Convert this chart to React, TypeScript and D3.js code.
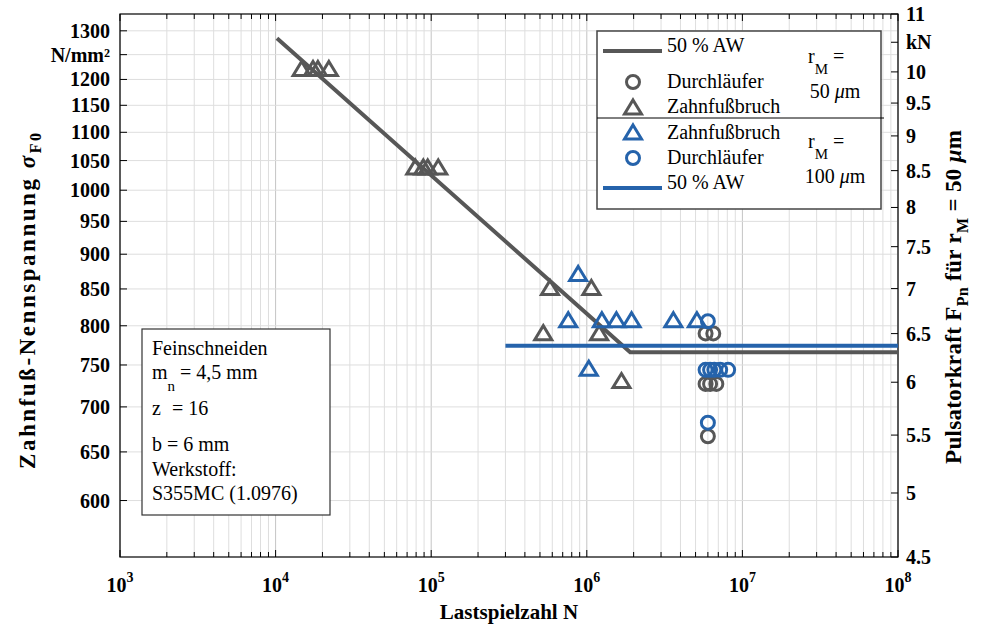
import { useEffect, useRef } from 'react';
import * as d3 from 'd3';

// x axis decades (10^3 .. 10^8)
const xDecades = [3, 4, 5, 6, 7, 8];
const leftTicks = [600, 650, 700, 750, 800, 850, 900, 950, 1000, 1050, 1100, 1150, 1200, 1250, 1300];
const leftTickLabels = ['600', '650', '700', '750', '800', '850', '900', '950', '1000', '1050', '1100', '1150', '1200', 'N/mm²', '1300'];
const rightTicks = [4.5, 5, 5.5, 6, 6.5, 7, 7.5, 8, 8.5, 9, 9.5, 10, 10.5, 11];
const rightTickLabels = ['4.5', '5', '5.5', '6', '6.5', '7', '7.5', '8', '8.5', '9', '9.5', '10', 'kN', '11'];

// r_M = 50 µm (grey)
const grayLineN = [1.02e4, 1.9e6, 1e8];
const grayLineS = [1284, 766, 766];
const grayBruchN = [1.47e4, 1.74e4, 1.87e4, 2.2e4, 7.9e4, 8.9e4, 9.5e4, 1.11e5, 5.8e5, 1.07e6, 5.25e5, 1.2e6, 1.67e6];
const grayBruchS = [1222, 1222, 1222, 1222, 1039, 1039, 1039, 1039, 852, 852, 791, 791, 731];
const grayDurchN = [5.8e6, 6.5e6, 5.8e6, 6.2e6, 6.8e6, 6.0e6];
const grayDurchS = [790, 790, 727, 727, 727, 667];

// r_M = 100 µm (blue)
const blueLineN = [3e5, 1e8];
const blueLineS = [774, 774];
const blueBruchN = [8.8e5, 7.6e5, 1.25e6, 1.55e6, 1.94e6, 3.6e6, 5.1e6, 1.03e6];
const blueBruchS = [872, 808, 808, 808, 808, 808, 808, 746];
const blueDurchN = [6.0e6, 5.8e6, 6.2e6, 6.6e6, 7.2e6, 8.1e6, 6.0e6];
const blueDurchS = [806, 744, 744, 744, 744, 744, 682];

const infoLines = ['Feinschneiden', 'b = 6 mm', 'Werkstoff:', 'S355MC (1.0976)'];

const GRAY = '#575757';
const BLUE = '#2563ab';
const FONT = "'Liberation Serif', 'Times New Roman', serif";
const TRI = 'M0,-7L8.5,7L-8.5,7Z';

export default function App() {
  const svgRef = useRef<SVGSVGElement>(null);

  useEffect(() => {
    const svg = d3.select(svgRef.current);
    svg.selectAll('*').remove();

    const left = 120, right = 898, top = 14, bottom = 557;
    const x = d3.scaleLog().domain([1e3, 1e8]).range([left, right]);
    const y = d3.scaleLog().domain([4.5 * 121.5, 11 * 121.5]).range([bottom, top]);
    const yF = d3.scaleLog().domain([4.5, 11]).range([bottom, top]);

    svg.attr('font-family', FONT);

    // grid
    const grid = svg.append('g');
    const xAll: number[] = [];
    xDecades.forEach(d => {
      for (let m = 1; m <= 9; m++) {
        if (d === 8 && m > 1) break;
        xAll.push(m * Math.pow(10, d));
      }
    });
    grid.selectAll('.vg').data(xAll).enter().append('line')
      .attr('x1', d => x(d)).attr('x2', d => x(d))
      .attr('y1', top).attr('y2', bottom)
      .attr('stroke', d => (Math.abs(Math.log10(d) % 1) < 1e-9 ? '#c4c4c4' : '#dedede'))
      .attr('stroke-width', 1);
    grid.selectAll('.hg').data(leftTicks).enter().append('line')
      .attr('x1', left).attr('x2', right)
      .attr('y1', d => y(d)).attr('y2', d => y(d))
      .attr('stroke', '#dedede').attr('stroke-width', 1);

    // ticks
    const ticks = svg.append('g').attr('stroke', '#000').attr('stroke-width', 1);
    xAll.forEach(v => {
      const major = Math.abs(Math.log10(v) % 1) < 1e-9;
      const len = major ? 7 : 5;
      ticks.append('line').attr('x1', x(v)).attr('x2', x(v)).attr('y1', bottom).attr('y2', bottom - len);
      ticks.append('line').attr('x1', x(v)).attr('x2', x(v)).attr('y1', top).attr('y2', top + len);
    });
    leftTicks.forEach(v => {
      ticks.append('line').attr('x1', left).attr('x2', left + 7).attr('y1', y(v)).attr('y2', y(v));
    });
    rightTicks.forEach(v => {
      ticks.append('line').attr('x1', right).attr('x2', right - 7).attr('y1', yF(v)).attr('y2', yF(v));
    });

    // frame
    svg.append('rect').attr('x', left).attr('y', top).attr('width', right - left).attr('height', bottom - top)
      .attr('fill', 'none').attr('stroke', '#000').attr('stroke-width', 1.2);

    // tick labels
    leftTicks.forEach((v, i) => {
      svg.append('text').attr('x', left - 10).attr('y', y(v) + 7)
        .attr('text-anchor', 'end').attr('font-size', 20).attr('font-weight', 'bold')
        .text(leftTickLabels[i]);
    });
    rightTicks.forEach((v, i) => {
      svg.append('text').attr('x', right + 8).attr('y', yF(v) + 7)
        .attr('text-anchor', 'start').attr('font-size', 20).attr('font-weight', 'bold')
        .text(rightTickLabels[i]);
    });
    xDecades.forEach(d => {
      const t = svg.append('text').attr('x', x(Math.pow(10, d))).attr('y', 592)
        .attr('text-anchor', 'middle').attr('font-size', 20).attr('font-weight', 'bold');
      t.append('tspan').text('10');
      t.append('tspan').attr('dy', -10).attr('font-size', 14).text(String(d));
    });

    // axis titles
    svg.append('text').attr('x', (left + right) / 2).attr('y', 619)
      .attr('text-anchor', 'middle').attr('font-size', 21).attr('font-weight', 'bold')
      .text('Lastspielzahl N');

    const lt = svg.append('text').attr('transform', 'translate(35,301) rotate(-90)')
      .attr('text-anchor', 'middle').attr('font-size', 23).attr('font-weight', 'bold')
      .attr('textLength', 336).attr('lengthAdjust', 'spacing');
    lt.append('tspan').text('Zahnfuß-Nennspannung ');
    lt.append('tspan').attr('font-style', 'italic').text('σ');
    lt.append('tspan').attr('font-size', 16).attr('dy', 6).text('F0');

    const rt = svg.append('text').attr('transform', 'translate(961,297) rotate(-90)')
      .attr('text-anchor', 'middle').attr('font-size', 23).attr('font-weight', 'bold')
      .attr('textLength', 334).attr('lengthAdjust', 'spacing');
    rt.append('tspan').text('Pulsatorkraft F');
    rt.append('tspan').attr('font-size', 16).attr('dy', 7).text('Pn');
    rt.append('tspan').attr('dy', -7).text('  für r');
    rt.append('tspan').attr('font-size', 16).attr('dy', 7).text('M');
    rt.append('tspan').attr('dy', -7).text(' = 50 ');
    rt.append('tspan').attr('font-style', 'italic').text('μ');
    rt.append('tspan').text('m');

    const line = d3.line<[number, number]>().x(d => x(d[0])).y(d => y(d[1]));

    // grey series
    svg.selectAll('.gt').data(grayBruchN).enter().append('path')
      .attr('d', TRI).attr('transform', (d, i) => `translate(${x(d)},${y(grayBruchS[i])})`)
      .attr('fill', 'none').attr('stroke', GRAY).attr('stroke-width', 3);
    svg.selectAll('.gc').data(grayDurchN).enter().append('circle')
      .attr('cx', d => x(d)).attr('cy', (d, i) => y(grayDurchS[i])).attr('r', 6.5)
      .attr('fill', 'none').attr('stroke', GRAY).attr('stroke-width', 3);
    svg.append('path').datum(grayLineN.map((n, i) => [n, grayLineS[i]] as [number, number]))
      .attr('d', line).attr('fill', 'none').attr('stroke', GRAY).attr('stroke-width', 4);

    // blue series
    svg.selectAll('.bt').data(blueBruchN).enter().append('path')
      .attr('d', TRI).attr('transform', (d, i) => `translate(${x(d)},${y(blueBruchS[i])})`)
      .attr('fill', 'none').attr('stroke', BLUE).attr('stroke-width', 3);
    svg.selectAll('.bc').data(blueDurchN).enter().append('circle')
      .attr('cx', d => x(d)).attr('cy', (d, i) => y(blueDurchS[i])).attr('r', 6.5)
      .attr('fill', 'none').attr('stroke', BLUE).attr('stroke-width', 3);
    svg.append('path').datum(blueLineN.map((n, i) => [n, blueLineS[i]] as [number, number]))
      .attr('d', line).attr('fill', 'none').attr('stroke', BLUE).attr('stroke-width', 4);

    // legend
    const lg = svg.append('g');
    lg.append('rect').attr('x', 597).attr('y', 31).attr('width', 284).attr('height', 178)
      .attr('fill', '#fff').attr('stroke', '#444').attr('stroke-width', 1.5);
    lg.append('line').attr('x1', 597).attr('x2', 884).attr('y1', 118).attr('y2', 118)
      .attr('stroke', '#000').attr('stroke-width', 1);
    lg.append('line').attr('x1', 603).attr('x2', 662).attr('y1', 51).attr('y2', 51)
      .attr('stroke', GRAY).attr('stroke-width', 4);
    lg.append('circle').attr('cx', 633).attr('cy', 82).attr('r', 6.5)
      .attr('fill', 'none').attr('stroke', GRAY).attr('stroke-width', 3);
    lg.append('path').attr('d', TRI).attr('transform', 'translate(633,107)')
      .attr('fill', 'none').attr('stroke', GRAY).attr('stroke-width', 3);
    lg.append('path').attr('d', TRI).attr('transform', 'translate(633,132)')
      .attr('fill', 'none').attr('stroke', BLUE).attr('stroke-width', 3);
    lg.append('circle').attr('cx', 633).attr('cy', 158).attr('r', 6.5)
      .attr('fill', 'none').attr('stroke', BLUE).attr('stroke-width', 3);
    lg.append('line').attr('x1', 603).attr('x2', 662).attr('y1', 188).attr('y2', 188)
      .attr('stroke', BLUE).attr('stroke-width', 4);

    const legendLabels: [string, number][] = [
      ['50 % AW', 52], ['Durchläufer', 88], ['Zahnfußbruch', 113],
      ['Zahnfußbruch', 139], ['Durchläufer', 164], ['50 % AW', 189],
    ];
    legendLabels.forEach(([t, yy]) => {
      lg.append('text').attr('x', 667).attr('y', yy).attr('font-size', 20).text(t);
    });

    const rm = (yy: number, val: string, valY: number) => {
      const t = lg.append('text').attr('x', 808).attr('y', yy).attr('font-size', 20);
      t.append('tspan').text('r');
      t.append('tspan').attr('font-size', 15).attr('dy', 11).text('M');
      t.append('tspan').attr('dy', -11).text(' =');
      const v = lg.append('text').attr('x', 835).attr('y', valY).attr('font-size', 20).attr('text-anchor', 'middle');
      v.append('tspan').text(val + ' ');
      v.append('tspan').attr('font-style', 'italic').text('μ');
      v.append('tspan').text('m');
    };
    rm(63, '50', 98);
    rm(148, '100', 183);

    // info box
    const ib = svg.append('g');
    ib.append('rect').attr('x', 142).attr('y', 329).attr('width', 188).attr('height', 186)
      .attr('fill', '#fff').attr('stroke', '#333').attr('stroke-width', 1.2);
    ib.append('text').attr('x', 152).attr('y', 355).attr('font-size', 20).text(infoLines[0]);
    const mn = ib.append('text').attr('x', 152).attr('y', 379).attr('font-size', 20);
    mn.append('tspan').text('m');
    mn.append('tspan').attr('font-size', 15).attr('dy', 12).text('n');
    mn.append('tspan').attr('dy', -12).text(' = 4,5 mm');
    const zt = ib.append('text').attr('x', 152).attr('y', 415).attr('font-size', 20);
    zt.append('tspan').text('z');
    zt.append('tspan').attr('x', 172).text('= 16');
    ib.append('text').attr('x', 152).attr('y', 451).attr('font-size', 20).text(infoLines[1]);
    ib.append('text').attr('x', 152).attr('y', 476).attr('font-size', 20).text(infoLines[2]);
    ib.append('text').attr('x', 152).attr('y', 500).attr('font-size', 20).text(infoLines[3]);
  }, []);

  return <svg ref={svgRef} width={982} height={628} style={{ position: 'absolute', left: 0, top: 0, background: '#fff' }} />;
}
